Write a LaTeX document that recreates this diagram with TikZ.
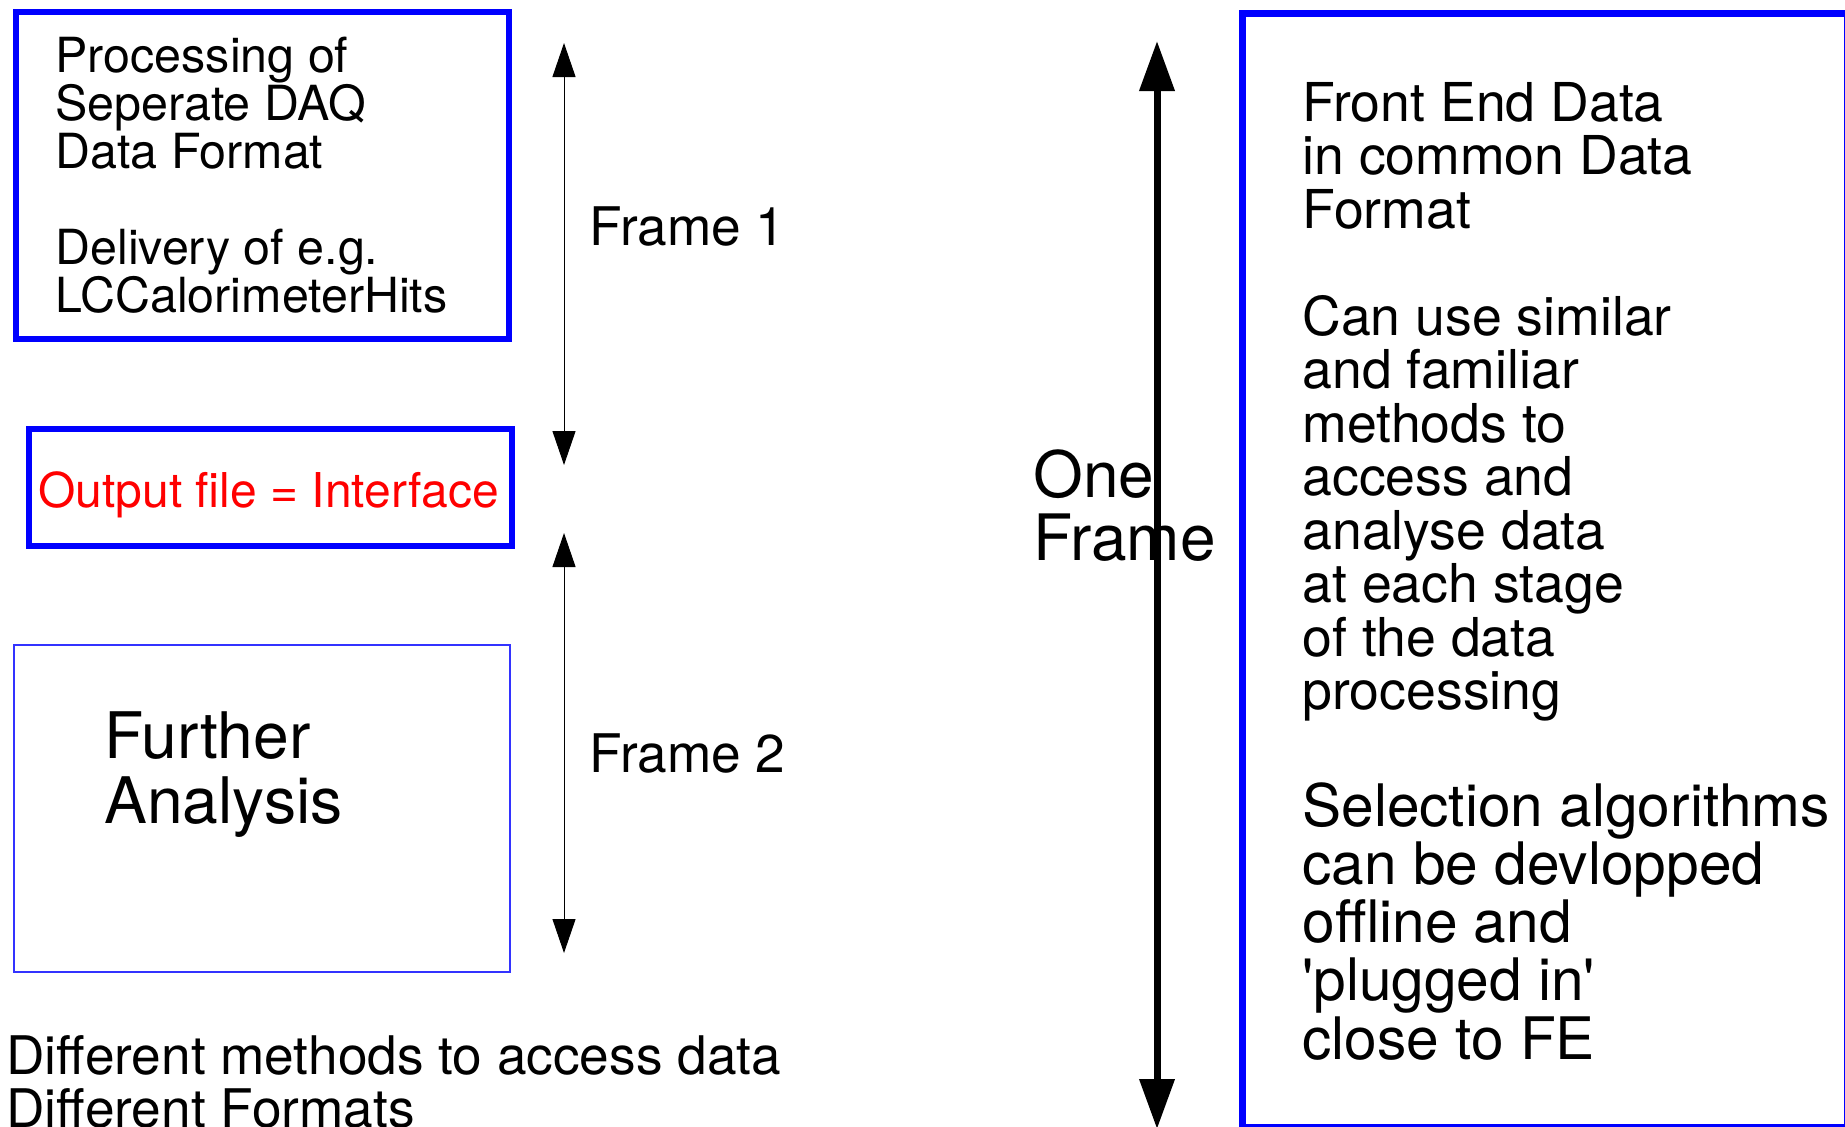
\documentclass[tikz,border=0pt]{standalone}
\usepackage{fontspec}
\setmainfont{TeX Gyre Heros}
\usetikzlibrary{arrows.meta}

\newcommand{\fsBox}{\fontsize{24.2pt}{24pt}\selectfont}
\newcommand{\fsOut}{\fontsize{24pt}{24pt}\selectfont}
\newcommand{\fsFrame}{\fontsize{26.6pt}{26pt}\selectfont}
\newcommand{\fsBig}{\fontsize{32.1pt}{32.5pt}\selectfont}
\newcommand{\fsOne}{\fontsize{32pt}{31.5pt}\selectfont}
\newcommand{\fsRight}{\fontsize{26.8pt}{26.75pt}\selectfont}
\newcommand{\fsSel}{\fontsize{29.3pt}{29.1pt}\selectfont}
\newcommand{\fsBottom}{\fontsize{26.6pt}{26.5pt}\selectfont}

\tikzstyle{boxline} = [rectangle, draw=blue, line width=3.25pt, inner sep=0pt]
\tikzstyle{thinbox} = [rectangle, draw=blue!80, line width=0.6pt, inner sep=0pt]
\tikzstyle{txt} = [anchor=base west, inner sep=0pt, align=left]
\tikzstyle{arrow} = [line width=0.5pt, {Triangle[length=17pt,width=11.5pt]}-{Triangle[length=17pt,width=11.5pt]}]
\tikzstyle{bigarrow} = [line width=3.5pt, {Triangle[length=25pt,width=17pt]}-{Triangle[length=25pt,width=17pt]}]

\begin{document}
\begin{tikzpicture}[x=0.5pt, y=-0.5pt]
\useasboundingbox (0,0) rectangle (1845,1126);

% Left side boxes (text nodes sit on the baseline of their last line)
\node (P1) [boxline, minimum width=246.5pt, minimum height=163.5pt] at (262.5,175.5) {};
\node (IF) [boxline, minimum width=241.5pt, minimum height=58.5pt] at (270.5,487.5) {};
\node (FA) [thinbox, minimum width=248pt, minimum height=163.5pt] at (262,808.5) {};

\node (P1t) [txt, font=\fsBox] at (55,312) {Processing of\\Seperate DAQ\\Data Format\\[24pt]Delivery of e.g.\\LCCalorimeterHits};
\node (IFt) [txt, font=\fsOut, text=red] at (38,507) {Output file = Interface};
\node (FAt) [txt, font=\fsBig] at (104,823) {Further\\Analysis};

% Frames
\coordinate (F1a) at (564,43);
\coordinate (F1b) at (564,465);
\coordinate (F2a) at (564,533);
\coordinate (F2b) at (564,953);
\node (F1) [txt, font=\fsFrame] at (589,245) {Frame 1};
\node (F2) [txt, font=\fsFrame] at (589,772) {Frame 2};
\draw [arrow] (F1a) -- (F1b);
\draw [arrow] (F2a) -- (F2b);

\node (D) [txt, font=\fsBottom] at (6,1127) {Different methods to access data\\Different Formats};

% Right side
\node (FE) [boxline, line width=3.5pt, minimum width=302.5pt, minimum height=557pt] at (1544.5,570) {};
\node (FEt) [txt, font=\fsRight] at (1302,709.5) {Front End Data\\in common Data\\Format\\[26.75pt]Can use similar\\and familiar\\methods to\\access and\\analyse data\\at each stage\\of the data\\processing};
\node (SEt) [txt, font=\fsSel] at (1302,1059) {Selection algorithms\\can be devlopped\\offline and\\\textquotesingle plugged in\textquotesingle\\close to FE};

\node (OF) [txt, font=\fsOne] at (1033,560) {One\\Frame};
\coordinate (OFa) at (1157,41);
\coordinate (OFb) at (1157,1129);
\draw [bigarrow] (OFa) -- (OFb);

\end{tikzpicture}
\end{document}
